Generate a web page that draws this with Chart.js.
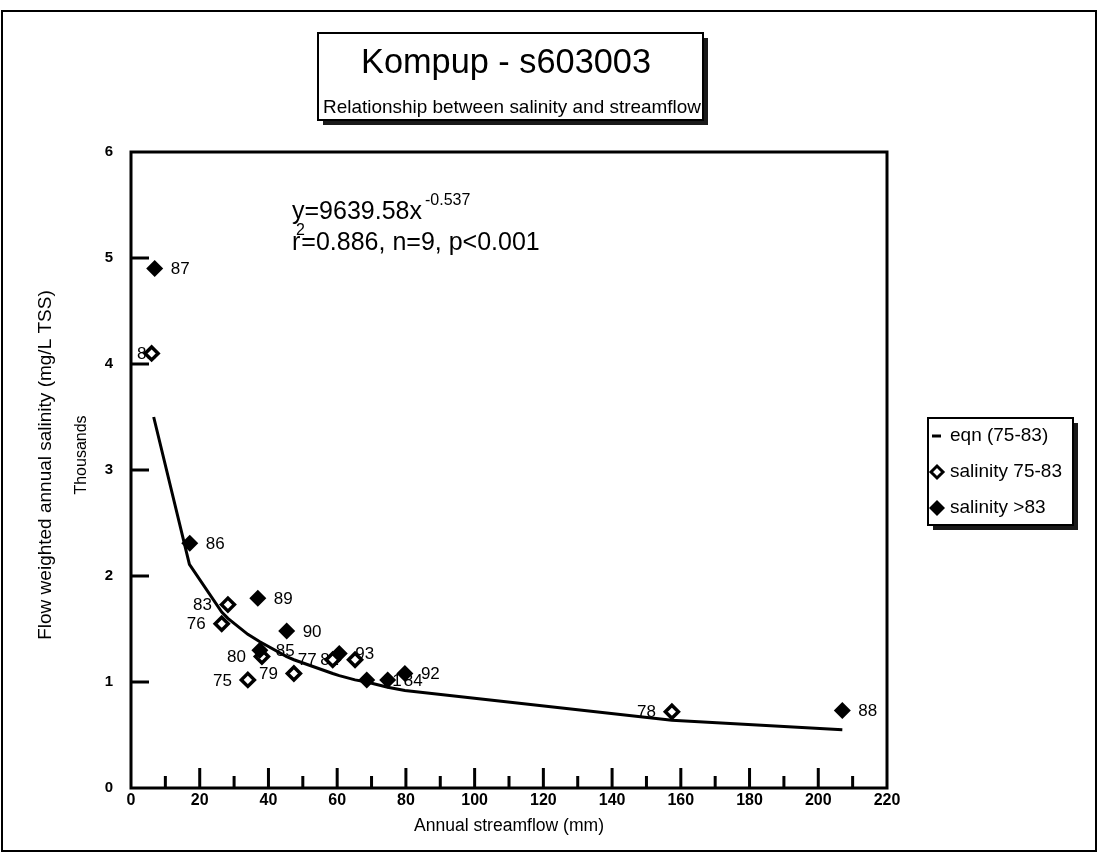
<!DOCTYPE html>
<html>
<head>
<meta charset="utf-8">
<title>Kompup - s603003</title>
<script src="https://cdn.jsdelivr.net/npm/chart.js@4.4.1/dist/chart.umd.min.js"></script>
<style>
  html, body { margin: 0; padding: 0; background: #fff; }
  canvas { display: block; }
</style>
</head>
<body>
<canvas id="salinityChart" width="1099" height="863"></canvas>
<script>
// annual streamflow (mm) and flow weighted salinity (thousands mg/L TSS)
const earlyYears = ['75', '76', '77', '78', '79', '80', '81', '82', '83'];
const earlyFlow = [34.0, 26.4, 58.7, 157.4, 47.4, 38.1, 6.0, 65.2, 28.2];
const earlySalinity = [1.02, 1.55, 1.21, 0.72, 1.08, 1.24, 4.10, 1.21, 1.73];

const lateYears = ['84', '85', '86', '87', '88', '89', '90', '91', '92', '93'];
const lateFlow = [74.7, 37.5, 17.1, 6.9, 207.0, 36.9, 45.3, 68.6, 79.7, 60.6];
const lateSalinity = [1.02, 1.30, 2.31, 4.90, 0.73, 1.79, 1.48, 1.02, 1.08, 1.27];

// fitted curve (75-83), vertices as plotted
const eqnFlow = [6.6, 17.0, 26.4, 28.2, 34.0, 37.5, 45.3, 47.4, 58.7, 60.6, 65.2, 68.6, 74.7, 79.7, 157.4, 207.0];
const eqnSalinity = [3.50, 2.11, 1.66, 1.60, 1.45, 1.38, 1.24, 1.21, 1.08, 1.06, 1.02, 1.00, 0.95, 0.92, 0.64, 0.55];

const xTickValues = [0, 20, 40, 60, 80, 100, 120, 140, 160, 180, 200, 220];
const xMinorTicks = [10, 30, 50, 70, 90, 110, 130, 150, 170, 190, 210];
const yTickValues = [0, 1, 2, 3, 4, 5, 6];

const FONT = "'Liberation Sans', Arial, Helvetica, sans-serif";

document.addEventListener('DOMContentLoaded', function () {
  const toPoints = (xs, ys) => xs.map((x, i) => ({ x: x, y: ys[i] }));

  // year numbers beside each marker, drawn under the markers
  function drawYearLabels(chart) {
    const ctx = chart.ctx;
    const area = chart.chartArea;
    ctx.save();
    ctx.font = '17px ' + FONT;
    ctx.fillStyle = '#000';
    ctx.textBaseline = 'middle';
    chart.data.datasets.forEach(function (ds, di) {
      if (!ds.years) return;
      const meta = chart.getDatasetMeta(di);
      meta.data.forEach(function (el, i) {
        const txt = ds.years[i];
        const w = ctx.measureText(txt).width;
        let left;
        if (ds.labelSide === 'left') {
          left = el.x - 16 - w;
          if (left < area.left + 6) left = area.left + 6;
        } else {
          left = el.x + 16;
        }
        ctx.textAlign = 'left';
        ctx.fillText(txt, left, el.y + 1);
      });
    });
    ctx.restore();
  }

  // boxed plot area with inward tick marks
  function drawFrame(chart) {
    const ctx = chart.ctx;
    const area = chart.chartArea;
    const xs = chart.scales.x;
    const ys = chart.scales.y;
    ctx.save();
    ctx.strokeStyle = '#000';
    ctx.lineWidth = 3;
    ctx.strokeRect(area.left, area.top, area.right - area.left, area.bottom - area.top);
    ctx.beginPath();
    xTickValues.slice(1, -1).forEach(function (v) {
      const px = xs.getPixelForValue(v);
      ctx.moveTo(px, area.bottom);
      ctx.lineTo(px, area.bottom - 20);
    });
    xMinorTicks.forEach(function (v) {
      const px = xs.getPixelForValue(v);
      ctx.moveTo(px, area.bottom);
      ctx.lineTo(px, area.bottom - 12);
    });
    yTickValues.slice(1, -1).forEach(function (v) {
      const py = ys.getPixelForValue(v);
      ctx.moveTo(area.left, py);
      ctx.lineTo(area.left + 18, py);
    });
    ctx.stroke();
    ctx.restore();
  }

  function boxWithShadow(ctx, x, y, w, h) {
    ctx.fillStyle = '#1a1a1a';
    ctx.fillRect(x + 5, y + 5, w, h);
    ctx.fillStyle = '#fff';
    ctx.fillRect(x, y, w, h);
    ctx.strokeStyle = '#000';
    ctx.lineWidth = 2;
    ctx.strokeRect(x, y, w, h);
  }

  function drawDecorations(chart) {
    const ctx = chart.ctx;
    const area = chart.chartArea;
    ctx.save();

    // outer frame
    ctx.strokeStyle = '#000';
    ctx.lineWidth = 2;
    ctx.strokeRect(2, 11, 1094, 840);

    // title box
    boxWithShadow(ctx, 318, 33, 385, 87);
    ctx.fillStyle = '#000';
    ctx.textAlign = 'center';
    ctx.textBaseline = 'alphabetic';
    ctx.font = '35px ' + FONT;
    ctx.fillText('Kompup - s603003', 506, 73, 290);
    ctx.font = '19px ' + FONT;
    ctx.fillText('Relationship between salinity and streamflow', 512, 113, 378);

    // regression equation
    ctx.textAlign = 'left';
    const ex = 292;
    ctx.font = '25px ' + FONT;
    const lead = 'y=9639.58x';
    ctx.fillText(lead, ex, 219);
    const leadW = ctx.measureText(lead).width;
    const rW = ctx.measureText('r').width;
    ctx.fillText('r', ex, 250);
    ctx.fillText('=0.886, n=9, p<0.001', ex + rW + 1, 250);
    ctx.font = '16px ' + FONT;
    ctx.fillText('-0.537', ex + leadW + 3, 205);
    ctx.fillText('2', ex + 4, 235);

    // axis titles
    ctx.textAlign = 'center';
    ctx.textBaseline = 'middle';
    ctx.font = '18px ' + FONT;
    ctx.fillText('Annual streamflow (mm)', (area.left + area.right) / 2, 826, 190);
    ctx.save();
    ctx.translate(46, 465);
    ctx.rotate(-Math.PI / 2);
    ctx.font = '19px ' + FONT;
    ctx.fillText('Flow weighted annual salinity (mg/L TSS)', 0, 0, 372);
    ctx.restore();
    ctx.save();
    ctx.translate(82, 455);
    ctx.rotate(-Math.PI / 2);
    ctx.font = '16px ' + FONT;
    ctx.fillText('Thousands', 0, 0);
    ctx.restore();

    // legend
    boxWithShadow(ctx, 928, 418, 145, 107);
    ctx.fillStyle = '#000';
    ctx.textAlign = 'left';
    ctx.textBaseline = 'middle';
    ctx.font = '19px ' + FONT;
    const legendRows = [
      { text: 'eqn (75-83)', y: 436 },
      { text: 'salinity 75-83', y: 472 },
      { text: 'salinity >83', y: 508 }
    ];
    legendRows.forEach(function (row) {
      ctx.fillText(row.text, 950, row.y, 118);
    });
    ctx.lineWidth = 3;
    ctx.beginPath();
    ctx.moveTo(932, 436);
    ctx.lineTo(941, 436);
    ctx.stroke();
    ctx.beginPath();
    ctx.moveTo(931, 472);
    ctx.lineTo(937, 466);
    ctx.lineTo(943, 472);
    ctx.lineTo(937, 478);
    ctx.closePath();
    ctx.fillStyle = '#fff';
    ctx.fill();
    ctx.lineWidth = 3;
    ctx.stroke();
    ctx.beginPath();
    ctx.moveTo(929, 508);
    ctx.lineTo(937, 500);
    ctx.lineTo(945, 508);
    ctx.lineTo(937, 516);
    ctx.closePath();
    ctx.fillStyle = '#000';
    ctx.fill();

    ctx.restore();
  }

  const decorPlugin = {
    id: 'decor',
    beforeDraw(chart) {
      const ctx = chart.ctx;
      ctx.save();
      ctx.fillStyle = '#fff';
      ctx.fillRect(0, 0, chart.width, chart.height);
      ctx.restore();
    },
    beforeDatasetsDraw: drawYearLabels,
    afterDatasetsDraw: drawFrame,
    afterDraw: drawDecorations
  };

  const ctx = document.getElementById('salinityChart').getContext('2d');
  new Chart(ctx, {
    type: 'scatter',
    data: {
      datasets: [
        {
          label: 'salinity >83',
          data: toPoints(lateFlow, lateSalinity),
          years: lateYears,
          labelSide: 'right',
          pointStyle: 'rectRot',
          pointRadius: 8.5,
          backgroundColor: '#000',
          borderColor: '#000',
          borderWidth: 0
        },
        {
          label: 'salinity 75-83',
          data: toPoints(earlyFlow, earlySalinity),
          years: earlyYears,
          labelSide: 'left',
          pointStyle: 'rectRot',
          pointRadius: 6.5,
          backgroundColor: '#fff',
          borderColor: '#000',
          borderWidth: 3.5
        },
        {
          label: 'eqn (75-83)',
          data: toPoints(eqnFlow, eqnSalinity),
          showLine: true,
          pointRadius: 0,
          borderColor: '#000',
          borderWidth: 3,
          tension: 0
        }
      ]
    },
    options: {
      responsive: false,
      animation: false,
      events: [],
      layout: { padding: { left: 0, right: 212, top: 152, bottom: 0 } },
      plugins: {
        legend: { display: false },
        tooltip: { enabled: false }
      },
      scales: {
        x: {
          type: 'linear',
          min: 0,
          max: 220,
          afterFit: function (s) { s.height = 75; },
          afterBuildTicks: function (s) { s.ticks = xTickValues.map(v => ({ value: v })); },
          grid: { display: false, drawTicks: false },
          border: { display: false },
          ticks: {
            color: '#000',
            padding: 3,
            maxRotation: 0,
            autoSkip: false,
            font: { family: FONT, size: 16, weight: 'bold' }
          }
        },
        y: {
          type: 'linear',
          min: 0,
          max: 6,
          afterFit: function (s) { s.width = 131; },
          afterBuildTicks: function (s) { s.ticks = yTickValues.map(v => ({ value: v })); },
          grid: { display: false, drawTicks: false },
          border: { display: false },
          ticks: {
            color: '#000',
            padding: 18,
            font: { family: FONT, size: 15, weight: 'bold' }
          }
        }
      }
    },
    plugins: [decorPlugin]
  });
});
</script>
</body>
</html>
